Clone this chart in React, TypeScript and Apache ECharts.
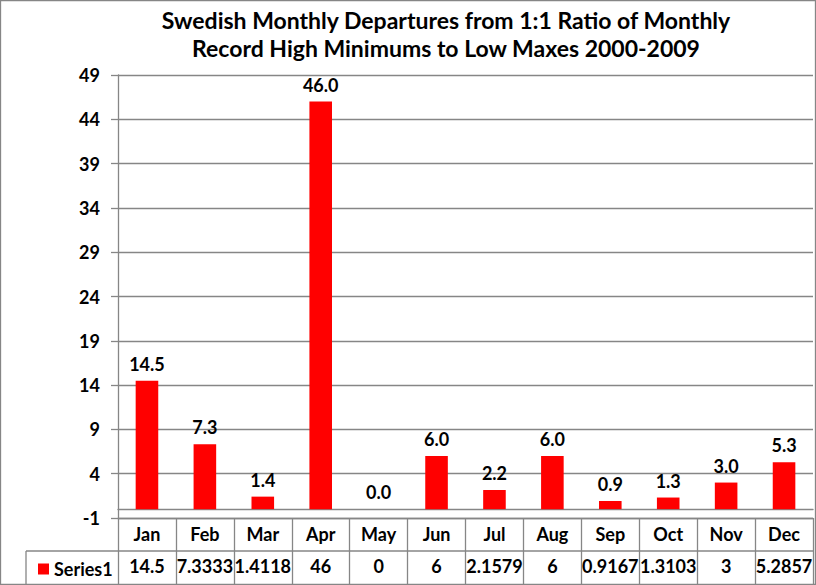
import React, { useEffect, useRef } from "react";
import * as echarts from "echarts";

const months = ["Jan", "Feb", "Mar", "Apr", "May", "Jun", "Jul", "Aug", "Sep", "Oct", "Nov", "Dec"];
const values = [14.5, 7.3333, 1.4118, 46, 0, 6, 2.1579, 6, 0.9167, 1.3103, 3, 5.2857];
const seriesName = "Series1";
const titleLines = [
  "Swedish Monthly Departures from 1:1 Ratio of Monthly",
  "Record High Minimums to Low Maxes 2000-2009",
];
const yMin = -1;
const yMax = 49;
const yStep = 5;

const FONT = "Lato, 'Noto Sans', sans-serif";
const GRAY = "#868686";

export default function App() {
  const ref = useRef<HTMLDivElement>(null);
  useEffect(() => {
    if (!ref.current) return;
    const chart = echarts.init(ref.current, null, { renderer: "svg" });
    const txt = { fontFamily: FONT, fontWeight: "bold" as const, fontSize: 18, color: "#000" };
    chart.setOption({
      animation: false,
      backgroundColor: "#fff",
      grid: { left: 118, right: 3, top: 75, bottom: 67, containLabel: false },
      legend: {
        data: [seriesName],
        left: 33,
        top: 555,
        icon: "rect",
        itemWidth: 11,
        itemHeight: 11,
        textStyle: txt,
      },
      graphic: [
        {
          type: "rect",
          shape: { x: 0.5, y: 0.5, width: 815, height: 584 },
          style: { fill: "none", stroke: GRAY, lineWidth: 1.3 },
          silent: true,
        },
        {
          type: "text",
          x: 446,
          y: 6,
          style: {
            text: titleLines.join("\n"),
            textAlign: "center",
            fontFamily: FONT,
            fontWeight: "bold",
            fontSize: 23,
            lineHeight: 28,
            fill: "#000",
          },
        },
        {
          type: "line",
          shape: { x1: 26, y1: 551, x2: 813, y2: 551 },
          style: { stroke: GRAY, lineWidth: 1.3 },
        },
        {
          type: "line",
          shape: { x1: 26, y1: 551, x2: 26, y2: 585 },
          style: { stroke: GRAY, lineWidth: 1.3 },
        },
      ],
      xAxis: [
        {
          type: "category",
          data: months,
          position: "bottom",
          axisLine: { onZero: true, lineStyle: { color: GRAY, width: 1.3 } },
          axisTick: { show: false },
          axisLabel: { show: false },
        },
        {
          type: "category",
          data: months,
          position: "bottom",
          axisLine: { onZero: false, lineStyle: { color: GRAY, width: 1.3 } },
          axisTick: { show: true, length: 67, lineStyle: { color: GRAY, width: 1.3 } },
          axisLabel: { ...txt, margin: 7, interval: 0 },
        },
        {
          type: "category",
          data: values.map((v) => String(v)),
          position: "bottom",
          offset: 33,
          axisLine: { show: false, onZero: false },
          axisTick: { show: false },
          axisLabel: { ...txt, margin: 6, interval: 0, hideOverlap: false },
        },
      ],
      yAxis: {
        type: "value",
        min: yMin,
        max: yMax,
        interval: yStep,
        axisLine: { show: true, lineStyle: { color: GRAY, width: 1.3 } },
        axisTick: { show: true, length: 7, lineStyle: { color: GRAY, width: 1.3 } },
        axisLabel: { ...txt, margin: 18 },
        splitLine: { show: true, lineStyle: { color: GRAY, width: 1.3 } },
      },
      series: [
        {
          name: seriesName,
          type: "bar",
          xAxisIndex: 0,
          data: values,
          barWidth: "39%",
          itemStyle: { color: "#ff0000" },
          label: {
            show: true,
            position: "top",
            distance: 8,
            ...txt,
            formatter: (p: any) => Number(p.value).toFixed(1),
          },
        },
      ],
    });
    return () => chart.dispose();
  }, []);
  return (
    <div
      ref={ref}
      style={{ position: "absolute", left: 0, top: 0, width: 816, height: 585 }}
    />
  );
}
